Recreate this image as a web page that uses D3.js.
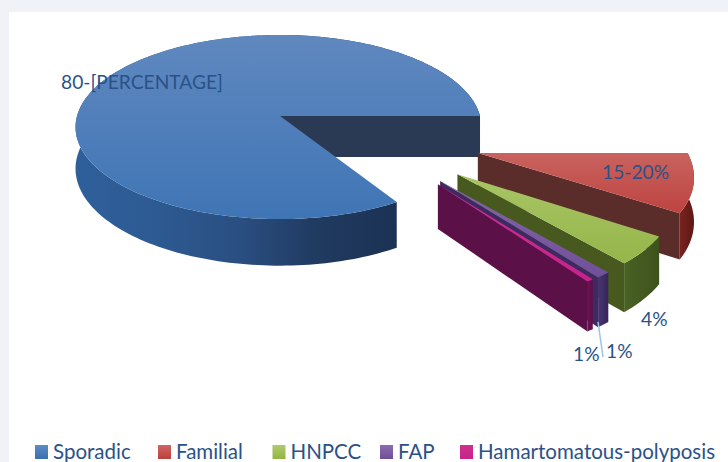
<!DOCTYPE html>
<html>
<head>
<meta charset="utf-8">
<script src="https://cdn.jsdelivr.net/npm/d3@7"></script>
<style>
  html, body { margin: 0; padding: 0; background: #f0f2f8; overflow: hidden; }
  text { font-family: Lato, "Open Sans", sans-serif; }
</style>
</head>
<body>
<div id="chart"></div>
<script>
// === Data ===
const categories = ["Sporadic", "Familial", "HNPCC", "FAP", "Hamartomatous-polyposis"];
const sliceValues = [84, 9.5, 4.7, 1, 0.5];
const sliceLabels = ["80-[PERCENTAGE]", "15-20%", "4%", "1%", "1%"];

// === Styles, one entry per slice ===
const topColors = [["#6088bf", "#3f75b5"], ["#c9635f", "#bd4340"], ["#a8c565", "#95b64a"], ["#8466a8", "#70509a"], ["#d0308f", "#c9218a"]];
const wallColors = ["#2a3a55", "#5a2c2a", "#47591f", "#3e2a60", "#5c1048"];
const sideColors = [["#2f5f9a", "#2d5a92", "#2a4f82", "#203a60", "#1a3253", "#15304f"], ["#7a2320", "#5c1815"], ["#4a6224", "#3d521c"], ["#4a3570", "#35245a"], ["#6a1452", "#5c1048"]];
const legendColors = [["#5b8cc8", "#3c6fae"], ["#cf6662", "#bb403c"], ["#aecb6c", "#92b545"], ["#8c6db0", "#6f4f98"], ["#d0308f", "#c9218a"]];

// how far each slice is pulled out of the pie (radius units, degrees below east)
const explodeDist = [0, 1.02, 1.017, 0.989, 1];
const explodeDir = [0, 22.4, 35.9, 41.8, 43.6];
const sliceRadius = [1, 1, 0.98, 0.99, 0.97];

const width = 728;
const height = 462;

const svg = d3.select("#chart").append("svg").attr("width", width).attr("height", height).style("display", "block");
const defs = svg.append("defs");

svg.append("rect").attr("x", 9).attr("y", 12).attr("width", width - 9).attr("height", height - 12).attr("fill", "white");

// === Perspective projection of the pie plane ===
const perspective = 0.12;
const depth = 41;
const xPos = d3.scaleLinear().domain([-1, 0, 1]).range([77, 280, 480]);
const yPos = d3.scaleLinear().domain([0, 1]).range([116, 206.7]);

function project(u, v, h) {
  const s = 1 / (1 - perspective * v);
  return [xPos(u * s), yPos(v * s) + h * depth * s];
}

const line = d3.line();

function rimPoints(d, i, h) {
  const dir = (explodeDir[i] * Math.PI) / 180;
  const ou = explodeDist[i] * Math.cos(dir);
  const ov = explodeDist[i] * Math.sin(dir);
  const n = Math.max(2, Math.ceil((d.endAngle - d.startAngle) * 40));
  return d3.range(n + 1).map((k) => {
    const t = d.startAngle + ((d.endAngle - d.startAngle) * k) / n;
    return project(ou + sliceRadius[i] * Math.sin(t), ov - sliceRadius[i] * Math.cos(t), h);
  });
}

function apex(i, h) {
  const dir = (explodeDir[i] * Math.PI) / 180;
  return project(explodeDist[i] * Math.cos(dir), explodeDist[i] * Math.sin(dir), h);
}

function gradient(id, colors, horizontal) {
  const g = defs.append("linearGradient").attr("id", id)
    .attr("x1", 0).attr("y1", 0)
    .attr("x2", horizontal ? 1 : 0).attr("y2", horizontal ? 0 : 1);
  colors.forEach((c, k) => {
    g.append("stop").attr("offset", k / (colors.length - 1)).attr("stop-color", c);
  });
}

// === Pie layout: clockwise, first slice starts lower right ===
const startDeg = 148.4;
const spanDeg = 358;
const pie = d3.pie().sort(null)
  .startAngle((startDeg * Math.PI) / 180)
  .endAngle(((startDeg + spanDeg) * Math.PI) / 180);
const arcs = pie(sliceValues);

// === Draw slices back to front ===
arcs.forEach((d, i) => {
  gradient(`top${i}`, topColors[i], false);
  gradient(`side${i}`, sideColors[i], true);
  const g = svg.append("g").attr("class", "slice");

  const rimTop = rimPoints(d, i, 0);
  const rimBottom = rimPoints(d, i, 1);

  // outer wall
  g.append("path")
    .attr("d", line(rimTop.concat(rimBottom.slice().reverse())) + "Z")
    .attr("fill", `url(#side${i})`);

  // cut wall that faces the viewer, always the clockwise end of the slice
  const edge = rimTop.length - 1;
  const wall = [apex(i, 0), rimTop[edge], rimBottom[edge], apex(i, 1)];
  g.append("path").attr("d", line(wall) + "Z").attr("fill", wallColors[i]);

  // top face
  g.append("path")
    .attr("d", line([apex(i, 0)].concat(rimTop)) + "Z")
    .attr("fill", `url(#top${i})`);
});

// === Leader line for the FAP label ===
svg.append("line")
  .attr("x1", 598).attr("y1", 322).attr("x2", 603).attr("y2", 357)
  .attr("stroke", "#9dc3e6").attr("stroke-width", 1.5);

// === Slice labels ===
const labelPos = [[61, 89], [602, 179], [641, 326], [606, 358], [573, 361]];
svg.selectAll("text.label")
  .data(sliceLabels)
  .enter()
  .append("text")
  .attr("class", "label")
  .attr("x", (d, i) => labelPos[i][0])
  .attr("y", (d, i) => labelPos[i][1])
  .attr("font-size", 19.2)
  .attr("fill", "#2a5288")
  .text((d) => d);

// === Legend ===
const legendX = [35, 158, 272.5, 380, 460];
categories.forEach((name, i) => {
  gradient(`legend${i}`, legendColors[i], false);
  svg.append("rect")
    .attr("x", legendX[i]).attr("y", 445)
    .attr("width", 13).attr("height", 14)
    .attr("fill", `url(#legend${i})`);
  svg.append("text")
    .attr("x", legendX[i] + 18).attr("y", 459)
    .attr("font-size", 20.5)
    .attr("fill", "#2a5288")
    .text(name);
});
</script>
</body>
</html>
